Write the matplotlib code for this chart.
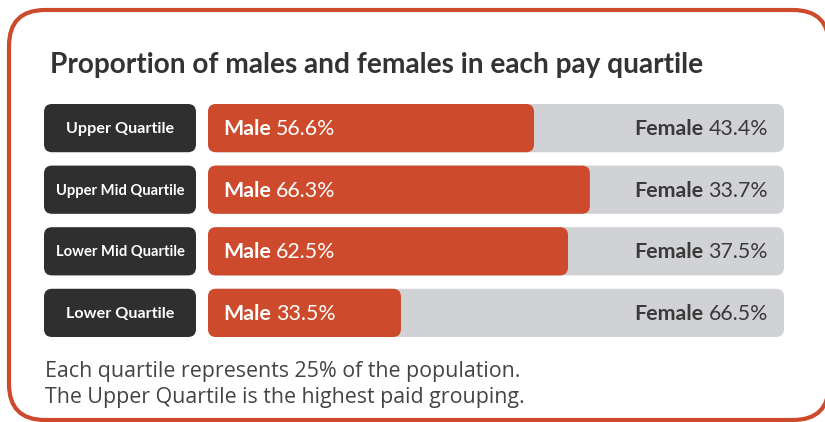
import matplotlib
matplotlib.use("Agg")
import matplotlib.pyplot as plt
from matplotlib.patches import FancyBboxPatch

# data
quartiles = ["Upper Quartile", "Upper Mid Quartile", "Lower Mid Quartile", "Lower Quartile"]
male_pct = [56.6, 66.3, 62.5, 33.5]
female_pct = [43.4, 33.7, 37.5, 66.5]

title = "Proportion of males and females in each pay quartile"
notes = ["Each quartile represents 25% of the population.",
         "The Upper Quartile is the highest paid grouping."]

ORANGE = "#CD4A2C"
DARK = "#2F2F2F"
GREY = "#D1D2D5"
TXT = "#3A3A3A"

W, H = 825, 422
fig = plt.figure(figsize=(W / 100, H / 100), dpi=100)
fig.patch.set_facecolor("white")

# background axes in pixel coords (y down)
bg = fig.add_axes([0, 0, 1, 1])
bg.set_xlim(0, W)
bg.set_ylim(H, 0)
bg.axis("off")

bg.add_patch(FancyBboxPatch((9, 10), 820, 410, boxstyle="round,pad=0,rounding_size=36",
                            fc="white", ec=ORANGE, lw=3.0, clip_on=True))
bg.text(50, 73, title, fontsize=20.2, fontweight="bold", family="Lato", color="#333333",
        va="baseline", ha="left")
bg.text(45, 377, notes[0], fontsize=15.4, family="Open Sans", color="#444444", va="baseline")
bg.text(45, 403, notes[1], fontsize=15.4, family="Open Sans", color="#444444", va="baseline")

# bar axes: x 208..784 px = 0..100 %, rows 104..337 px
bx0, bx1 = 208, 784
by_top, by_bot = 104, 337
pitch = 61.3
bh = 48 / pitch
ax = fig.add_axes([bx0 / W, 1 - by_bot / H, (bx1 - bx0) / W, (by_bot - by_top) / H])
ax.set_xlim(0, 100)
ax.set_ylim(len(quartiles) - 1 + bh / 2, -bh / 2)
ax.axis("off")

px_x = (bx1 - bx0) / 100.0
px_y = pitch
aspect = px_x / px_y
r = 8 / px_x

ypos = list(range(len(quartiles)))
grey_bars = ax.barh(ypos, [m + f for m, f in zip(male_pct, female_pct)], height=bh, color=GREY)
male_bars = ax.barh(ypos, male_pct, height=bh, color=ORANGE)


def round_bars(bars, color):
    for b in bars:
        x, y = b.get_x(), b.get_y()
        w, h = b.get_width(), b.get_height()
        b.set_visible(False)
        ax.add_patch(FancyBboxPatch((x, y), w, h, boxstyle=f"round,pad=0,rounding_size={r}",
                                    mutation_aspect=aspect, fc=color, ec="none"))


round_bars(grey_bars, GREY)
round_bars(male_bars, ORANGE)

# dark label boxes to the left of the bars
lab_x0 = (44 - bx0) / px_x
lab_w = (196 - 44) / px_x
for i, q in enumerate(quartiles):
    ax.add_patch(FancyBboxPatch((lab_x0, i - bh / 2), lab_w, bh,
                                boxstyle=f"round,pad=0,rounding_size={r}",
                                mutation_aspect=aspect, fc=DARK, ec="none", clip_on=False))

fig.canvas.draw()
rend = fig.canvas.get_renderer()

for i, q in enumerate(quartiles):
    t = ax.annotate(q, xy=(lab_x0 + lab_w / 2, i), xytext=(0, -5), textcoords="offset pixels",
                    ha="center", va="baseline", fontsize=11.6, fontweight="bold", family="Lato",
                    color="white", annotation_clip=False)
    wpx = t.get_window_extent(rend).width
    if wpx > 129:
        t.set_fontsize(11.6 * 129 / wpx)

    m1 = ax.annotate("Male", xy=(0, i), xytext=(15, -7), textcoords="offset pixels",
                     ha="left", va="baseline", fontsize=15.4, fontweight="bold", family="Lato",
                     color="white")
    w1 = m1.get_window_extent(rend).width
    ax.annotate(f"{male_pct[i]}%", xy=(0, i), xytext=(15 + w1 + 5, -7), textcoords="offset pixels",
                ha="left", va="baseline", fontsize=15.4, family="Lato", color="white")

    f2 = ax.annotate(f"{female_pct[i]}%", xy=(100, i), xytext=(-16, -7), textcoords="offset pixels",
                     ha="right", va="baseline", fontsize=15.4, family="Lato", color=TXT)
    w2 = f2.get_window_extent(rend).width
    ax.annotate("Female", xy=(100, i), xytext=(-16 - w2 - 5, -7), textcoords="offset pixels",
                ha="right", va="baseline", fontsize=15.4, fontweight="bold", family="Lato", color=TXT)

fig.savefig("out.png", dpi=100)
